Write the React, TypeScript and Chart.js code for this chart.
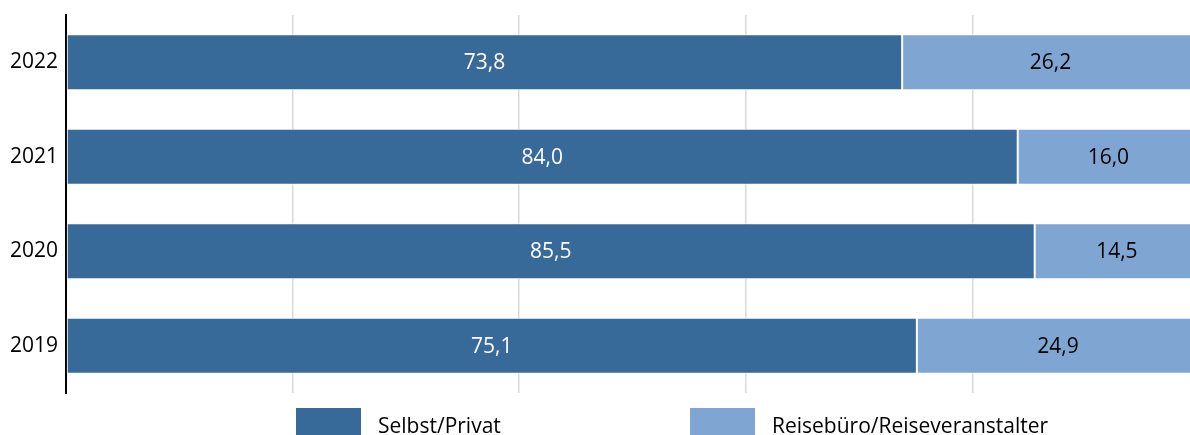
import React, { useEffect, useRef } from "react";
import { Chart, registerables } from "chart.js";

Chart.register(...registerables);

// ---- data ----
const years = ["2022", "2021", "2020", "2019"];
const selbstPrivat = [73.8, 84.0, 85.5, 75.1];
const reisebuero = [26.2, 16.0, 14.5, 24.9];
const seriesLabels = ["Selbst/Privat", "Reisebüro/Reiseveranstalter"];
const xTickValues = [0, 20, 40, 60, 80, 100];

// ---- style ----
const FONT = "'Open Sans', 'DejaVu Sans', sans-serif";
const FONT_SIZE = 21;
const DARK = "#376a98";
const LIGHT = "#7fa5d2";
const W = 1210;
const H = 470;
const LEGEND_X = [296, 690];
const LEGEND_TOP = 408;
const LEGEND_BOX_W = 65;
const LEGEND_BOX_H = 30;
const LEGEND_TEXT_GAP = 17;
const LEGEND_BASELINE = 433;

const fmt = (v: number) => v.toFixed(1).replace(".", ",");

const valueLabels = {
  id: "valueLabels",
  afterDatasetsDraw(chart: any) {
    const ctx = chart.ctx as CanvasRenderingContext2D;
    ctx.save();
    ctx.font = `${FONT_SIZE}px ${FONT}`;
    ctx.textAlign = "center";
    ctx.textBaseline = "middle";
    chart.data.datasets.forEach((ds: any, i: number) => {
      const meta = chart.getDatasetMeta(i);
      meta.data.forEach((el: any, j: number) => {
        const { x, base, y } = el.getProps(["x", "base", "y"], true);
        ctx.fillStyle = ds.labelColor;
        ctx.fillText(fmt(ds.data[j]), (x + base) / 2, y + 1);
      });
    });
    ctx.restore();
  },
};

const customLegend = {
  id: "customLegend",
  afterDraw(chart: any) {
    const ctx = chart.ctx as CanvasRenderingContext2D;
    ctx.save();
    ctx.font = `${FONT_SIZE}px ${FONT}`;
    ctx.textAlign = "left";
    ctx.textBaseline = "alphabetic";
    chart.data.datasets.forEach((ds: any, i: number) => {
      const x = LEGEND_X[i];
      ctx.fillStyle = ds.backgroundColor;
      ctx.fillRect(x, LEGEND_TOP, LEGEND_BOX_W, LEGEND_BOX_H);
      ctx.fillStyle = "#000000";
      ctx.fillText(ds.label, x + LEGEND_BOX_W + LEGEND_TEXT_GAP, LEGEND_BASELINE);
    });
    ctx.restore();
  },
};

export default function App() {
  const ref = useRef<HTMLCanvasElement | null>(null);

  useEffect(() => {
    if (!ref.current) return;
    const chart = new Chart(ref.current, {
      type: "bar",
      data: {
        labels: years,
        datasets: [
          {
            label: seriesLabels[0],
            data: selbstPrivat,
            backgroundColor: DARK,
            borderColor: "#ffffff",
            borderWidth: 1,
            borderSkipped: false,
            labelColor: "#ffffff",
          } as any,
          {
            label: seriesLabels[1],
            data: reisebuero,
            backgroundColor: LIGHT,
            borderColor: "#ffffff",
            borderWidth: 1,
            borderSkipped: false,
            labelColor: "#000000",
          } as any,
        ],
      },
      options: {
        indexAxis: "y",
        responsive: false,
        animation: false,
        maintainAspectRatio: false,
        datasets: { bar: { barPercentage: 0.593, categoryPercentage: 1 } },
        layout: { padding: { top: 15, bottom: H - 393, left: 0, right: W - 1199 } },
        plugins: {
          legend: { display: false },
          tooltip: { enabled: false },
        },
        scales: {
          x: {
            type: "linear",
            stacked: true,
            min: 0,
            max: 100,
            afterBuildTicks: (s: any) => {
              s.ticks = xTickValues.map((v) => ({ value: v }));
            },
            afterFit: (s: any) => {
              s.height = 0;
              s.paddingLeft = 0;
              s.paddingRight = 0;
            },
            grid: { color: "#d9d9d9", lineWidth: 1.5, drawTicks: false },
            border: { display: false },
            ticks: { display: false },
          },
          y: {
            type: "category",
            stacked: true,
            afterFit: (s: any) => {
              s.width = 66;
              s.paddingTop = 0;
              s.paddingBottom = 0;
            },
            grid: { display: false, drawTicks: false },
            border: { display: true, color: "#000000", width: 2 },
            ticks: {
              color: "#000000",
              padding: 8,
              font: { family: FONT, size: FONT_SIZE },
            },
          },
        },
      },
      plugins: [valueLabels, customLegend],
    });
    return () => chart.destroy();
  }, []);

  return (
    <div style={{ position: "fixed", left: 0, top: 0, width: W, height: H, background: "#ffffff" }}>
      <canvas ref={ref} width={W} height={H} style={{ width: W, height: H, display: "block" }} />
    </div>
  );
}
